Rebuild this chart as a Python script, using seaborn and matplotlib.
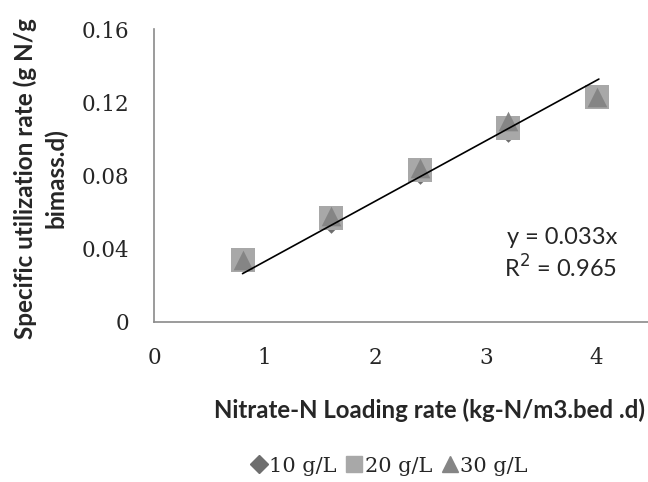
import matplotlib
matplotlib.use("Agg")
import matplotlib.pyplot as plt
import seaborn as sns
import pandas as pd
from matplotlib.lines import Line2D

# data
loading_rate = [0.8, 1.6, 2.4, 3.2, 4.0]
rate_10 = [0.033, 0.054, 0.081, 0.104, 0.123]
rate_20 = [0.034, 0.057, 0.083, 0.106, 0.123]
rate_30 = [0.034, 0.058, 0.084, 0.110, 0.123]
series_names = ["10 g/L", "20 g/L", "30 g/L"]
slope = 0.033
r_squared = 0.965
trend_x = [0.8, 4.02]
x_ticks = [0, 1, 2, 3, 4]
y_ticks = [0, 0.04, 0.08, 0.12, 0.16]
y_tick_labels = ["0", "0.04", "0.08", "0.12", "0.16"]

df = pd.DataFrame({
    "x": loading_rate * 3,
    "y": rate_10 + rate_20 + rate_30,
    "conc": [series_names[0]] * 5 + [series_names[1]] * 5 + [series_names[2]] * 5,
})

sns.set_style("white")
colors = {"10 g/L": "#6e6e6e", "20 g/L": "#a8a8a8", "30 g/L": "#858585"}
markers = {"10 g/L": "D", "20 g/L": "s", "30 g/L": "^"}
sizes = {"10 g/L": 110, "20 g/L": 300, "30 g/L": 200}

fig = plt.figure(figsize=(6.48, 4.82), dpi=100)
ax = fig.add_axes([154 / 648, 1 - 322 / 482, 498 / 648, 293 / 482])

for name in series_names:
    sub = df[df["conc"] == name]
    sns.scatterplot(data=sub, x="x", y="y", marker=markers[name], color=colors[name],
                    s=sizes[name], linewidth=0, ax=ax, legend=False, zorder=3)

trend_y = [slope * v for v in trend_x]
sns.lineplot(x=trend_x, y=trend_y, color="black", linewidth=1.2, ax=ax, zorder=4)

ax.set_xlim(0, 4.5)
ax.set_ylim(0, 0.16)
ax.set_xticks(x_ticks)
ax.set_xticklabels([str(t) for t in x_ticks])
ax.set_yticks(y_ticks)
ax.set_yticklabels(y_tick_labels)

sns.despine(ax=ax)
for side in ["left", "bottom"]:
    ax.spines[side].set_color("#8a8a8a")
    ax.spines[side].set_linewidth(1.2)
ax.tick_params(axis="both", which="major", direction="out", length=6, width=1.2,
               color="#8a8a8a", labelsize=15.5, pad=12)
for lab in ax.get_xticklabels() + ax.get_yticklabels():
    lab.set_family("DejaVu Serif")

ax.set_xlabel("Nitrate-N Loading rate (kg-N/m3.bed .d)", family="Lato",
              fontweight="bold", fontsize=17.3)
ax.xaxis.set_label_coords((429 - 154) / 498, (322 - 398) / 293)
ax.set_ylabel("Specific utilization rate (g N/g\nbimass.d)", family="Lato",
              fontweight="bold", fontsize=17.5, linespacing=1.4)
ax.yaxis.set_label_coords((68 - 154) / 498, 0.49)

ax.text(0.93, 0.287, f"y = {slope}x", transform=ax.transAxes, ha="right",
        va="center", family="Lato", fontsize=17)
ax.text(0.93, 0.184, f"R$^2$ = {r_squared}", transform=ax.transAxes, ha="right",
        va="center", family="Lato", fontsize=17)

handles = [Line2D([], [], marker=markers[n], color=colors[n], linestyle="none",
                  markersize=11 if n != "10 g/L" else 9) for n in series_names]
fig.legend(handles, series_names, loc="center", bbox_to_anchor=(389 / 648, 1 - 466 / 482),
           ncol=3, frameon=False, prop={"family": "DejaVu Serif", "size": 15},
           handletextpad=0.1, columnspacing=0.45, handlelength=0.8)

fig.savefig("out.png", dpi=100)
